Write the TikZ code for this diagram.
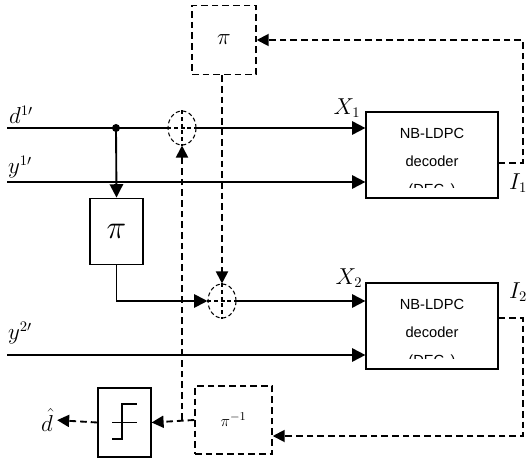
\documentclass[tikz,border=0pt]{standalone}
\usepackage{fontspec}
\newfontfamily\decfont{Liberation Sans}
\usetikzlibrary{arrows.meta, positioning, calc, shapes.geometric}
\tikzset{
  blkbox/.style  = {draw, line width=0.9pt, inner sep=0pt},
  decbox/.style  = {blkbox, minimum width=99pt, minimum height=64.5pt},
  dectxt/.style  = {font=\decfont\fontsize{11}{21}\selectfont, align=center,
                    inner sep=0pt},
  dashbox/.style = {draw, line width=1.1pt, dash pattern=on 5pt off 3pt,
                    inner sep=0pt},
  addnode/.style = {ellipse, draw, line width=0.8pt,
                    dash pattern=on 3pt off 2pt, minimum width=21pt,
                    minimum height=25.5pt, inner sep=0pt},
  addmark/.style = {line width=0.8pt, dash pattern=on 3pt off 2pt},
  sig/.style     = {line width=1.4pt, -{Triangle[length=10pt, width=10pt]}},
  fb/.style      = {line width=1.4pt, dash pattern=on 5pt off 3pt,
                    -{Triangle[length=9pt, width=9pt]}},
  lbl/.style     = {font=\fontsize{16}{18}\selectfont, inner sep=0pt},
}

\begin{document}
\begin{tikzpicture}[x=0.75pt, y=-0.75pt]
\useasboundingbox (0,0) rectangle (527,459);
% blocks
\node[dashbox, minimum width=48pt, minimum height=51.75pt] (pitop) at (224,40)
     {\fontsize{16}{18}\selectfont$\pi$};
\node[addnode] (add1) at (182,128) {};
\node[addnode] (add2) at (222,301) {};
\node[blkbox, minimum width=39.75pt, minimum height=50pt] (pibig) at (116.5,231.5)
     {\fontsize{28}{30}\selectfont$\pi$};
\node[blkbox, minimum width=39.75pt, minimum height=51.75pt] (hard) at (124.5,422.5) {};
\node[dashbox, minimum width=57.75pt, minimum height=51pt] (piinv) at (233.5,420)
     {\fontsize{13}{15}\selectfont$\pi^{-1}$};
\node[decbox] (dec1) at (432,155) {};
\node[decbox] (dec2) at (432,326) {};
\begin{scope}
  \clip (dec1.north west) rectangle ($(dec1.south east)+(0,-11)$);
  \node[dectxt] at ($(dec1)+(0,8)$) {NB-LDPC\\decoder\\(DEC$_1$)};
\end{scope}
\begin{scope}
  \clip (dec2.north west) rectangle ($(dec2.south east)+(0,-11)$);
  \node[dectxt] at ($(dec2)+(0,8)$) {NB-LDPC\\decoder\\(DEC$_2$)};
\end{scope}

% hard decision symbol
\draw[line width=0.9pt] ($(hard)+(-12.5,16.5)$) -- ++(10,0) -- ++(0,-35) -- ++(15,0);
\draw[line width=0.9pt] ($(hard)+(-12.5,0)$) -- ++(25,0);

% adders
\draw[addmark] (add1.west) -- (add1.east) (add1.north) -- (add1.south);
\draw[addmark] (add2.west) -- (add2.east) (add2.north) -- (add2.south);

% inputs
\coordinate (din) at (7,128);
\coordinate (y1in) at (7,182);
\coordinate (y2in) at (7,355);
\coordinate (split) at (116,128);
\draw[line width=0.9pt] (din) -- (add1.west);
\fill (split) circle (4);
\draw[sig] (split) -- (pibig.north);
\draw[sig] (add1.east) -- (add1.east -| dec1.west);
\draw[sig] (y1in) -- (y1in -| dec1.west);
\draw[sig] (pibig.south) |- (add2.west);
\draw[sig] (add2.east) -- (add2.east -| dec2.west);
\draw[sig] (y2in) -- (y2in -| dec2.west);

% feedback
\coordinate (i1out) at ($(dec1.east)+(0,8)$);
\coordinate (i2out) at ($(dec2.east)+(0,-8)$);
\coordinate (tee) at (add1 |- piinv.west);
\draw[fb] (i1out) -- (523,163) |- (pitop.east);
\draw[fb] (pitop.south -| add2) -- (add2.north);
\draw[fb] (i2out) -- (523,318) |- ($(piinv.east)+(0,16)$);
\draw[fb] (piinv.west) -- (hard.east);
\draw[fb] (tee) -- (add1.south);

% labels
\node[lbl, inner sep=1pt] (dhat) at (47,420) {\fontsize{17}{19}\selectfont$\hat{d}$};
\draw[fb, shorten >=2pt] (hard.west) -- (dhat.east);
\node[lbl] (dlbl) at (21,115) {$d^{1\prime}$};
\node[lbl] (y1lbl) at (20,167) {$y^{1\prime}$};
\node[lbl] (y2lbl) at (20,333) {$y^{2\prime}$};
\node[lbl] (x1lbl) at (347,108) {$X_1$};
\node[lbl] (x2lbl) at (349,278) {$X_2$};
\node[lbl] (i1lbl) at (518,183) {$I_1$};
\node[lbl] (i2lbl) at (518,292) {$I_2$};
\end{tikzpicture}
\end{document}
